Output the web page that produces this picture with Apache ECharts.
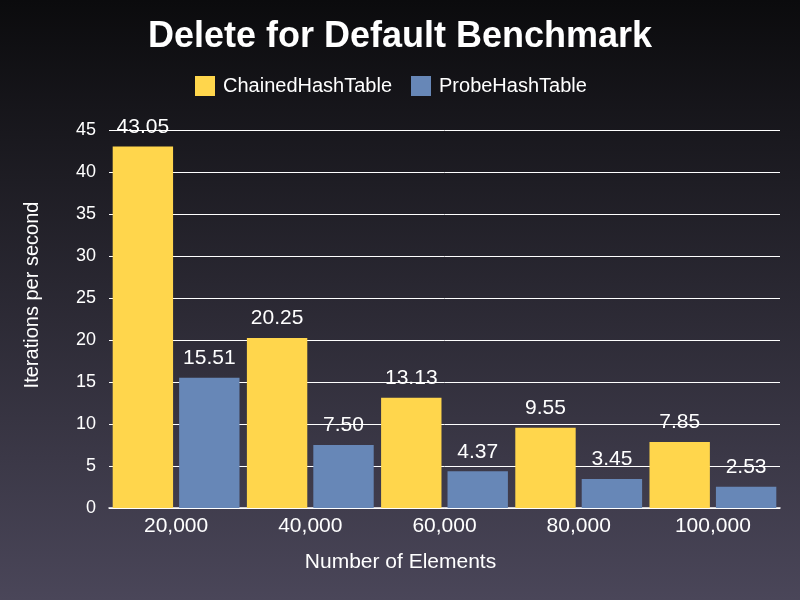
<!DOCTYPE html>
<html><head><meta charset="utf-8">
<script src="https://cdn.jsdelivr.net/npm/echarts@6/dist/echarts.min.js"></script>
<style>html,body{margin:0;padding:0;}#c{width:800px;height:600px;}</style>
</head><body><div id="c"></div>
<script>
const categories = ['20,000', '40,000', '60,000', '80,000', '100,000'];
const chained = [43.05, 20.25, 13.13, 9.55, 7.85];
const probe = [15.51, 7.50, 4.37, 3.45, 2.53];
const yTicks = { min: 0, max: 45, interval: 5 };

const chart = echarts.init(document.getElementById('c'));
const font = 'Liberation Sans, Arial, sans-serif';
const lbl = {
  show: true, position: 'top', distance: 9, color: '#ffffff',
  fontFamily: font, fontSize: 21,
  formatter: p => p.value.toFixed(2)
};
chart.setOption({
  animation: false,
  backgroundColor: {
    type: 'linear', x: 0, y: 0, x2: 0, y2: 1,
    colorStops: [{ offset: 0, color: '#0b0b0d' }, { offset: 1, color: '#4a4659' }]
  },
  title: {
    text: 'Delete for Default Benchmark', left: 'center', top: 14,
    textStyle: { color: '#ffffff', fontFamily: font, fontWeight: 'bold', fontSize: 36 }
  },
  legend: {
    top: 71, left: 190, itemWidth: 20, itemHeight: 20, itemGap: 19,
    icon: 'rect',
    textStyle: { color: '#ffffff', fontFamily: font, fontSize: 20, padding: [0, 0, 0, 3] },
    data: ['ChainedHashTable', 'ProbeHashTable']
  },
  grid: { left: 109, right: 20, top: 130, bottom: 92, containLabel: false },
  xAxis: {
    type: 'category', data: categories,
    name: 'Number of Elements', nameLocation: 'middle', nameGap: 44,
    nameTextStyle: { color: '#ffffff', fontFamily: font, fontSize: 21, padding: [0, 88, 0, 0] },
    axisLine: { lineStyle: { color: '#ffffff', width: 1.5 } },
    axisTick: { show: false },
    axisLabel: { color: '#ffffff', fontFamily: font, fontSize: 21, margin: 8 }
  },
  yAxis: {
    type: 'value', min: yTicks.min, max: yTicks.max, interval: yTicks.interval,
    name: 'Iterations per second', nameLocation: 'middle', nameGap: 67, nameRotate: 90,
    nameTextStyle: { color: '#ffffff', fontFamily: font, fontSize: 20, padding: [0, 0, 0, 48] },
    axisLine: { show: false },
    axisTick: { show: false },
    axisLabel: { color: '#ffffff', fontFamily: font, fontSize: 18, margin: 13 },
    splitLine: { lineStyle: { color: '#ffffff', width: 1 } }
  },
  series: [
    { name: 'ChainedHashTable', type: 'bar', data: chained, barGap: '10%', barCategoryGap: '5.5%',
      itemStyle: { color: '#ffd64c' }, label: lbl },
    { name: 'ProbeHashTable', type: 'bar', data: probe, barGap: '10%', barCategoryGap: '5.5%',
      itemStyle: { color: '#6787b7' }, label: lbl }
  ]
});
</script></body></html>
